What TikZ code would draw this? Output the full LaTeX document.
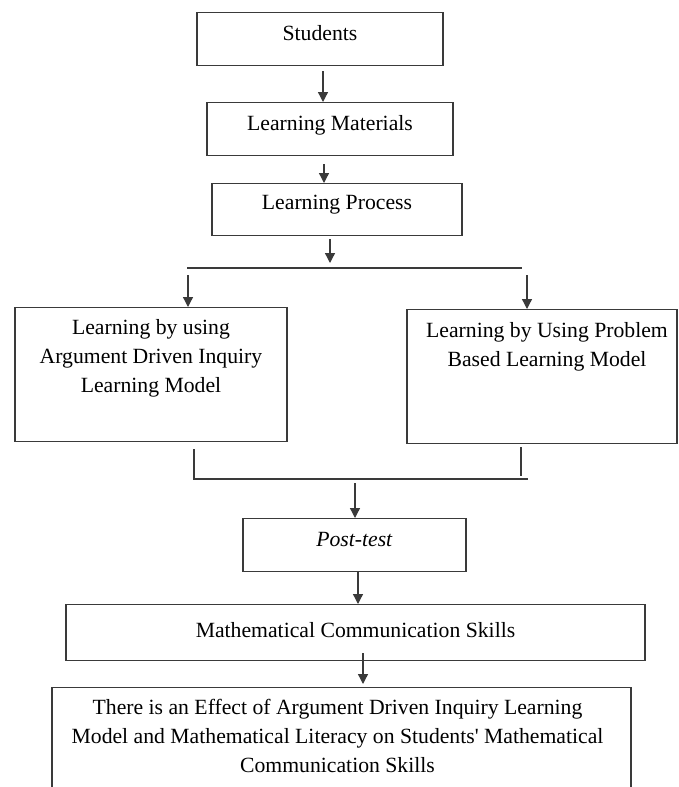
\documentclass[tikz,border=0pt]{standalone}
\usepackage{fontspec}
\setmainfont{Liberation Serif}[Ligatures=TeXOff]
\usetikzlibrary{arrows.meta}
\definecolor{ln}{HTML}{3A3A3A}
\tikzset{
  box/.style={draw=ln, line width=1.3pt, rectangle, inner sep=0pt, anchor=north},
  lbl/.style={anchor=north, inner sep=0pt, align=center, text=black, yshift=-#1},
  conn/.style={draw=ln, line width=1.3pt},
  arr/.style={conn, -{Triangle[width=10pt,length=10pt]}}
}
\begin{document}
\begin{tikzpicture}[x=1pt, y=-1pt, font=\fontsize{21.7}{29}\selectfont]
\useasboundingbox (0,0) rectangle (678,787);
\clip (0,0) rectangle (678,787);

% boxes
\node[box, minimum width=246, minimum height=53, label={[lbl=13pt]north:Students}] (stu) at (320,12) {};
\node[box, minimum width=246, minimum height=53, label={[lbl=13pt]north:Learning Materials}] (lm) at (330,102) {};
\node[box, minimum width=250, minimum height=52, label={[lbl=12pt]north:Learning Process}] (lp) at (337,183) {};
\node[box, minimum width=272, minimum height=134,
  label={[lbl=12pt]north:{Learning by using\\Argument Driven Inquiry\\Learning Model}}] (lb) at (151,307) {};
\node[box, minimum width=270, minimum height=134,
  label={[lbl=13pt, xshift=5pt]north:{Learning by Using Problem\\Based Learning Model}}] (rb) at (542,309) {};
\node[box, minimum width=223, minimum height=53, label={[lbl=14pt]north:\textit{Post-test}}] (pt) at (354.5,518) {};
\node[box, minimum width=579, minimum height=56, label={[lbl=18pt]north:Mathematical Communication Skills}] (mc) at (355.5,604) {};
\node[box, minimum width=579, minimum height=130,
  label={[lbl=12pt, xshift=-4pt]north:{There is an Effect of Argument Driven Inquiry Learning\\Model and Mathematical Literacy on Students' Mathematical\\Communication Skills}}] (res) at (341.5,687) {};

% helper coordinates
\coordinate (x1) at (323,0);
\coordinate (x2) at (324,0);
\coordinate (x3) at (330,0);
\coordinate (hl) at (187,268);
\coordinate (hr) at (522,268);
\coordinate (xl) at (188,0);
\coordinate (xr) at (527,0);
\coordinate (jl) at (194,479);
\coordinate (jr) at (528,479);
\coordinate (xj) at (521,476);
\coordinate (x4) at (355,0);
\coordinate (x5) at (358,0);
\coordinate (x6) at (363,0);

% connectors
\draw[arr, shorten <=5pt] (stu.south -| x1) -- (lm.north -| x1);
\draw[arr, shorten <=8pt] (lm.south -| x2) -- (lp.north -| x2);
\draw[arr, shorten <=3pt, shorten >=5pt] (lp.south -| x3) -- (hl -| x3);
\draw[conn] (hl) -- (hr);
\draw[arr, shorten <=7pt] (hl -| xl) -- (lb.north -| xl);
\draw[arr, shorten <=7pt] (hl -| xr) -- (rb.north -| xr);
\draw[conn, shorten <=7pt] (lb.south -| jl) -- (jl) -- (jr);
\draw[conn, shorten <=3pt] (rb.south -| xj) -- (xj);
\draw[arr, shorten <=4pt] (jl -| x4) -- (pt.north -| x4);
\draw[arr] (pt.south -| x5) -- (mc.north -| x5);
\draw[arr, shorten <=-8pt, shorten >=3pt] (mc.south -| x6) -- (res.north -| x6);
\end{tikzpicture}
\end{document}
